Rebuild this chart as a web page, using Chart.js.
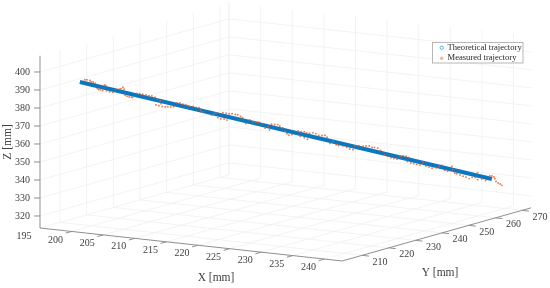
<!DOCTYPE html>
<html>
<head>
<meta charset="utf-8">
<style>
html,body{margin:0;padding:0;background:#fff}
canvas{display:block;filter:blur(0.35px)}
</style>
<script src="https://cdn.jsdelivr.net/npm/chart.js@4"></script>
</head>
<body>
<canvas id="c" width="550" height="288"></canvas>
<script>
const xTicks=[195,200,205,210,215,220,225,230,235,240];
const yTicks=[210,220,230,240,250,260,270];
const zTicks=[320,330,340,350,360,370,380,390,400];
const xAxisTitle="X [mm]", yAxisTitle="Y [mm]", zAxisTitle="Z [mm]";
const seriesNames=["Theoretical trajectory","Measured trajectory"];

const theoryX=[200,240];
const theoryY=[205.6,265.3];
const theoryZ=[395.05,331.64];

const measuredX=[200.5,200.7,201.0,201.1,201.3,201.5,201.7,201.8,202.0,202.2,202.4,202.5,202.6,202.9,203.2,203.5,203.8,204.0,204.2,204.3,204.4,204.6,204.8,205.0,205.1,205.5,205.8,206.1,206.4,206.7,207.0,207.3,207.5,207.7,207.8,207.9,207.4,208.0,208.3,208.5,208.8,209.1,209.4,209.7,210.0,210.3,210.6,211.0,211.3,211.6,211.7,211.9,212.8,213.0,213.2,213.4,213.7,213.9,214.0,214.2,214.3,214.5,214.8,215.1,215.3,215.6,215.8,216.1,216.5,216.8,217.1,217.4,217.7,218.0,218.3,218.4,218.6,218.9,219.2,219.4,219.7,219.9,220.1,220.3,220.6,221.2,221.4,221.5,221.8,221.8,222.0,222.1,222.3,222.6,222.9,223.2,223.5,223.8,224.0,224.3,224.6,224.9,225.1,225.5,225.9,226.2,226.5,226.7,227.1,227.5,227.8,228.1,228.4,228.6,228.9,229.2,229.6,229.9,230.2,230.5,230.8,231.1,231.4,231.7,231.8,231.9,232.1,232.4,232.7,233.0,233.3,233.6,233.9,234.2,234.6,234.9,235.1,235.4,235.7,236.1,236.2,236.4,236.6,236.9,237.2,237.5,237.8,238.1,238.4,238.6,238.6,239.0,239.4,239.8,240.0,240.2,240.3,240.4,240.6,240.8,241.0];
const measuredY=[206.3,206.6,207.0,207.2,207.5,207.8,208.1,208.4,208.6,208.9,209.2,209.4,209.5,209.9,210.4,210.8,211.3,211.5,211.8,212.0,212.1,212.4,212.7,213.0,213.3,213.9,214.3,214.7,215.2,215.6,216.0,216.5,216.8,217.0,217.2,217.3,216.6,217.5,217.9,218.4,218.8,219.2,219.7,220.1,220.5,221.0,221.4,222.0,222.4,222.8,223.1,223.4,224.7,225.0,225.3,225.6,226.0,226.3,226.5,226.8,226.9,227.2,227.6,228.1,228.5,228.9,229.2,229.7,230.2,230.7,231.1,231.5,232.0,232.4,232.8,233.1,233.4,233.9,234.3,234.6,235.0,235.3,235.6,235.9,236.3,237.2,237.5,237.6,238.1,238.1,238.5,238.6,238.9,239.4,239.8,240.2,240.7,241.1,241.4,241.8,242.3,242.7,243.1,243.7,244.3,244.7,245.2,245.4,246.0,246.6,247.0,247.5,247.9,248.3,248.8,249.2,249.8,250.2,250.7,251.1,251.5,252.0,252.4,252.8,253.0,253.3,253.6,254.0,254.4,254.9,255.3,255.7,256.2,256.6,257.2,257.6,258.1,258.5,258.9,259.5,259.6,259.9,260.2,260.7,261.1,261.5,262.0,262.4,262.8,263.3,263.3,263.9,264.4,265.0,265.3,265.6,265.7,265.9,266.2,266.5,266.7];
const measuredZ=[396.2,396.2,395.7,394.8,394.8,394.1,391.0,390.4,390.4,389.8,392.9,392.4,389.5,389.0,388.6,390.3,390.2,390.4,391.2,390.0,386.7,386.1,385.6,385.5,385.2,387.4,387.2,386.8,386.3,385.8,385.7,384.9,383.8,380.1,382.7,381.2,380.6,379.6,379.2,379.3,379.1,379.2,381.2,381.1,380.3,379.8,379.1,378.8,378.3,378.1,376.4,375.6,373.6,374.4,374.7,372.1,371.4,374.7,371.2,374.3,370.5,374.0,373.9,373.4,373.2,372.2,371.4,368.1,370.0,369.0,368.8,368.6,367.6,365.2,366.1,364.1,367.2,366.9,366.8,366.0,364.9,362.9,361.5,360.7,361.0,362.9,359.8,362.4,362.3,358.9,361.5,358.0,361.3,361.4,360.9,359.9,359.7,359.8,358.7,355.2,356.1,354.3,353.8,353.5,352.6,351.6,351.1,353.3,353.2,352.9,352.9,352.8,352.0,351.9,351.4,350.1,347.5,346.5,345.8,345.3,344.9,346.4,346.7,346.3,343.3,345.5,342.4,342.0,341.5,341.0,342.3,340.4,339.7,339.0,339.2,339.8,340.4,337.5,337.0,339.5,337.7,335.7,335.4,334.6,333.9,333.2,332.4,333.0,332.9,335.5,331.6,331.8,330.9,333.4,333.3,332.7,331.7,330.2,329.3,328.7,327.9];

// Axis limits of the 3-D box
const xRange=[195,242.8], yRange=[202.5,273.4], zRange=[313.33,409];

// Orthographic view of the box on the flat scatter scales
function proj(X,Y,Z){
  return {
    x:40+6.32*(X-195)+2.667*(Y-202.5),
    y:228+0.69*(X-195)-0.75*(Y-202.5)-1.8*(Z-313.33)
  };
}

const TXT="#404040", GRID="#f0f0f0", AXIS="#8f8f8f", SERIF='"Liberation Serif","Times New Roman",serif';

const scene={
  id:"scene",
  afterLayout(chart){
    const l=chart.legend;
    if(!l) return;
    l.left=438.3; l.right=523; l.top=41.5; l.bottom=70; l.width=85; l.height=29;
  },
  beforeDraw(chart){
    const c=chart.ctx, sx=chart.scales.x, sy=chart.scales.y;
    const P=(X,Y,Z)=>{const p=proj(X,Y,Z);return [sx.getPixelForValue(p.x),sy.getPixelForValue(p.y)];};
    const seg=(a,b,col,w)=>{c.strokeStyle=col;c.lineWidth=w;c.beginPath();c.moveTo(a[0],a[1]);c.lineTo(b[0],b[1]);c.stroke();};
    const [x0,x1]=xRange,[y0,y1]=yRange,[z0,z1]=zRange;
    c.save();
    // walls and floor grid
    xTicks.forEach(v=>{
      seg(P(v,y0,z0),P(v,y1,z0),GRID,0.8);
      seg(P(v,y1,z0),P(v,y1,z1),GRID,0.8);
    });
    yTicks.forEach(v=>{
      seg(P(x0,v,z0),P(x1,v,z0),GRID,0.8);
      seg(P(x0,v,z0),P(x0,v,z1),GRID,0.8);
    });
    zTicks.forEach(v=>{
      seg(P(x0,y0,v),P(x0,y1,v),GRID,0.8);
      seg(P(x0,y1,v),P(x1,y1,v),GRID,0.8);
    });
    seg(P(x0,y1,z0),P(x0,y1,z1),GRID,0.8);
    // axes
    seg(P(x0,y0,z0),P(x0,y0,z1),AXIS,1);
    seg(P(x0,y0,z0),P(x1,y0,z0),AXIS,1);
    seg(P(x1,y0,z0),P(x1,y1,z0),AXIS,1);
    // ticks
    xTicks.forEach(v=>{ if(v>195) seg(P(v,y0,z0),P(v,y0-2.2,z0),AXIS,1); });
    yTicks.forEach(v=>seg(P(x1,v,z0),P(x1+1.1,v,z0),AXIS,1));
    zTicks.forEach(v=>{const a=P(x0,y0,v);seg(a,[a[0]-6,a[1]],AXIS,1);});
    // tick labels
    c.fillStyle=TXT;c.textBaseline="middle";c.textAlign="center";
    c.font="10px "+SERIF;
    xTicks.forEach(v=>{const a=P(v,y0,z0);c.fillText(String(v),a[0]-16,a[1]+8.5);});
    yTicks.forEach(v=>{const a=P(x1,v,z0);c.fillText(String(v),a[0]+18,a[1]+6.7);});
    c.textAlign="right";
    zTicks.forEach(v=>{const a=P(x0,y0,v);c.fillText(String(v),30,a[1]);});
    // axis titles
    c.textAlign="center";c.font="11.5px "+SERIF;
    c.fillText(xAxisTitle,216,278);
    c.fillText(yAxisTitle,440,273);
    c.save();c.translate(8,142);c.rotate(-Math.PI/2);c.fillText(zAxisTitle,0,0);c.restore();
    // legend frame
    c.fillStyle="#fff";c.fillRect(432,42,91,21);
    c.strokeStyle="#a6a6a6";c.lineWidth=0.8;c.strokeRect(432.5,42.5,90.5,20.5);
    c.restore();
  }
};

new Chart(document.getElementById("c"),{
  type:"scatter",
  data:{datasets:[
    {label:seriesNames[1],
     data:measuredX.map((v,i)=>proj(v,measuredY[i],measuredZ[i])),
     showLine:false,pointStyle:"circle",pointRadius:0.95,pointBorderWidth:0,
     backgroundColor:"rgba(240,90,30,0.8)",borderColor:"rgba(240,90,30,0.8)",order:1},
    {label:seriesNames[0],
     data:theoryX.map((v,i)=>proj(v,theoryY[i],theoryZ[i])),
     showLine:true,borderWidth:4,borderColor:"#0a78c0",backgroundColor:"#0a78c0",
     pointStyle:"circle",pointRadius:0,order:2}
  ]},
  options:{
    responsive:false,animation:false,
    layout:{padding:0,autoPadding:false},
    scales:{
      x:{type:"linear",min:0,max:550,display:false},
      y:{type:"linear",min:0,max:288,reverse:true,display:false}
    },
    plugins:{
      title:{display:false},
      tooltip:{enabled:false},
      legend:{
        display:true,position:"chartArea",align:"start",reverse:false,
        labels:{
          usePointStyle:true,boxWidth:3,boxHeight:2.4,padding:1.9,
          font:{family:SERIF,size:8.6},color:"#262626",
          generateLabels(chart){
            return seriesNames.map(n=>{
              const isT=n===seriesNames[0];
              return {text:n,pointStyle:"circle",fontColor:"#262626",
                fillStyle:isT?"rgba(0,0,0,0)":"rgba(240,130,90,0.6)",
                strokeStyle:isT?"#3b9fd8":"rgba(240,130,90,0.6)",
                lineWidth:isT?0.8:0,hidden:false,datasetIndex:isT?1:0};
            });
          }
        }
      }
    }
  },
  plugins:[scene]
});
</script>
</body>
</html>
